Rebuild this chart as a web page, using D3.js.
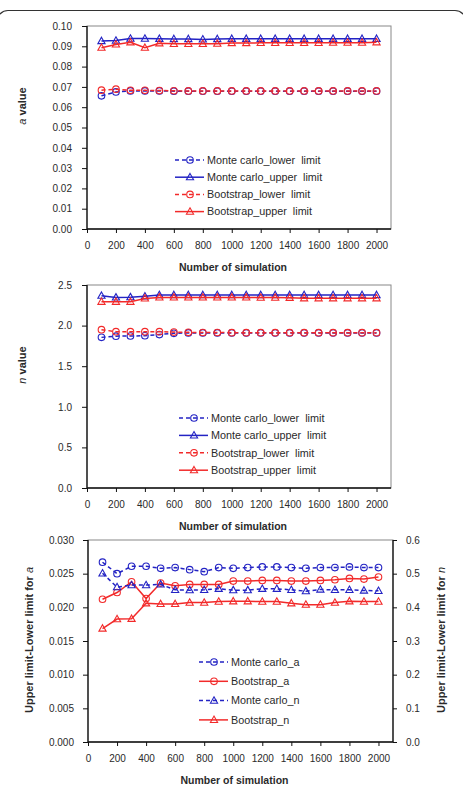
<!DOCTYPE html>
<html>
<head>
<meta charset="utf-8">
<script src="https://cdn.jsdelivr.net/npm/d3@7"></script>
<style>
  body { margin: 0; background: #fff; }
  svg { display: block; font-family: "Liberation Sans", Arial, sans-serif; }
  .tick text { fill: #2a2a2a; font-size: 10px; }
  .axis-title { fill: #2a2a2a; font-size: 10.5px; font-weight: bold; }
  .legend-text { fill: #2a2a2a; font-size: 10.8px; }
</style>
</head>
<body>
<script>
var width = 463, height = 789;
var blue = "#2323c4", red = "#f22a2a";

// number of simulations
var sims = [100, 200, 300, 400, 500, 600, 700, 800, 900, 1000,
            1100, 1200, 1300, 1400, 1500, 1600, 1700, 1800, 1900, 2000];
var xTicks = [0, 200, 400, 600, 800, 1000, 1200, 1400, 1600, 1800, 2000];

// a value
var aMcLower = [0.0656, 0.0675, 0.0680, 0.0680, 0.0680, 0.0679, 0.0679, 0.0679, 0.0679, 0.0679,
                0.0679, 0.0679, 0.0679, 0.0679, 0.0679, 0.0679, 0.0679, 0.0679, 0.0679, 0.0679];
var aMcUpper = [0.0926, 0.0928, 0.0938, 0.0938, 0.0937, 0.0936, 0.0936, 0.0934, 0.0936, 0.0937,
                0.0937, 0.0937, 0.0937, 0.0937, 0.0937, 0.0937, 0.0937, 0.0937, 0.0937, 0.0937];
var aBsLower = [0.0684, 0.0689, 0.0683, 0.0683, 0.0682, 0.0681, 0.0680, 0.0680, 0.0680, 0.0680,
                0.0680, 0.0680, 0.0680, 0.0680, 0.0680, 0.0680, 0.0680, 0.0680, 0.0680, 0.0680];
var aBsUpper = [0.0893, 0.0909, 0.0920, 0.0893, 0.0915, 0.0912, 0.0912, 0.0912, 0.0913, 0.0916,
                0.0916, 0.0917, 0.0917, 0.0917, 0.0917, 0.0917, 0.0918, 0.0918, 0.0918, 0.0920];
var aTicks = [0, 0.01, 0.02, 0.03, 0.04, 0.05, 0.06, 0.07, 0.08, 0.09, 0.10];

// n value
var nMcLower = [1.855, 1.870, 1.872, 1.875, 1.890, 1.905, 1.910, 1.910, 1.910, 1.910,
                1.910, 1.910, 1.910, 1.910, 1.910, 1.910, 1.910, 1.910, 1.910, 1.910];
var nMcUpper = [2.368, 2.347, 2.350, 2.360, 2.377, 2.377, 2.377, 2.377, 2.377, 2.377,
                2.377, 2.377, 2.377, 2.377, 2.377, 2.377, 2.377, 2.377, 2.377, 2.377];
var nBsLower = [1.950, 1.925, 1.925, 1.925, 1.925, 1.920, 1.917, 1.915, 1.915, 1.913,
                1.913, 1.913, 1.913, 1.913, 1.913, 1.913, 1.913, 1.913, 1.913, 1.913];
var nBsUpper = [2.294, 2.294, 2.294, 2.335, 2.347, 2.347, 2.347, 2.347, 2.347, 2.347,
                2.347, 2.345, 2.345, 2.343, 2.337, 2.337, 2.337, 2.337, 2.337, 2.337];
var nTicks = [0, 0.5, 1.0, 1.5, 2.0, 2.5];

// upper limit - lower limit
var diffMcA = [0.0267, 0.0250, 0.0261, 0.0261, 0.0258, 0.0259, 0.0256, 0.0253, 0.0259, 0.0258,
               0.0259, 0.0260, 0.0260, 0.0259, 0.0258, 0.0259, 0.0259, 0.0260, 0.0259, 0.0259];
var diffBsA = [0.0212, 0.0222, 0.0238, 0.0213, 0.0236, 0.0232, 0.0234, 0.0234, 0.0234, 0.0239,
               0.0239, 0.0240, 0.0240, 0.0239, 0.0239, 0.0240, 0.0241, 0.0243, 0.0242, 0.0245];
var diffMcN = [0.501, 0.460, 0.466, 0.466, 0.468, 0.452, 0.451, 0.452, 0.455, 0.451,
               0.451, 0.455, 0.455, 0.452, 0.448, 0.453, 0.452, 0.452, 0.450, 0.449];
var diffBsN = [0.337, 0.365, 0.366, 0.412, 0.410, 0.410, 0.414, 0.414, 0.417, 0.418,
               0.418, 0.417, 0.417, 0.412, 0.408, 0.408, 0.414, 0.418, 0.417, 0.417];
var diffATicks = [0, 0.005, 0.010, 0.015, 0.020, 0.025, 0.030];
var diffNTicks = [0, 0.1, 0.2, 0.3, 0.4, 0.5, 0.6];

var svg = d3.select("body").append("svg")
    .attr("width", width)
    .attr("height", height);

// outer frame, only its top edge and corners fall inside the picture
svg.append("rect")
    .attr("x", -3).attr("y", 10.5)
    .attr("width", width + 6).attr("height", 900)
    .attr("rx", 11)
    .attr("fill", "none")
    .attr("stroke", "#333")
    .attr("stroke-width", 1.2);

function drawMarker(g, shape, x, y, color){
    if (shape == "circle"){
        g.append("circle")
            .attr("cx", x).attr("cy", y).attr("r", 3.3)
            .attr("fill", "none").attr("stroke", color).attr("stroke-width", 1.1);
    } else {
        g.append("path")
            .attr("d", "M" + x + "," + (y - 3.8) + "L" + (x + 3.6) + "," + (y + 2.6) + "L" + (x - 3.6) + "," + (y + 2.6) + "Z")
            .attr("fill", "none").attr("stroke", color).attr("stroke-width", 1.1);
    }
}

function drawChart(cfg){
    var g = svg.append("g");
    var x = d3.scaleLinear().domain([0, 2100]).range([cfg.left, cfg.right]);
    var y = d3.scaleLinear().domain(cfg.yDomain).range([cfg.bottom, cfg.top]);
    var y2 = cfg.y2Domain ? d3.scaleLinear().domain(cfg.y2Domain).range([cfg.bottom, cfg.top]) : null;

    // plot frame
    g.append("rect")
        .attr("x", cfg.left).attr("y", cfg.top)
        .attr("width", cfg.right - cfg.left).attr("height", cfg.bottom - cfg.top)
        .attr("fill", "none").attr("stroke", "#888").attr("stroke-width", 1);

    var xAxis = g.append("g")
        .attr("transform", "translate(0," + cfg.bottom + ")")
        .call(d3.axisBottom(x).tickValues(xTicks).tickSize(4).tickPadding(9).tickFormat(d3.format("d")));
    var yAxis = g.append("g")
        .attr("transform", "translate(" + cfg.left + ",0)")
        .call(d3.axisLeft(y).tickValues(cfg.yTicks).tickSize(5).tickPadding(cfg.yPad).tickFormat(cfg.yFormat));
    [xAxis, yAxis].forEach(function(a){
        a.select(".domain").attr("stroke", "#111").attr("stroke-width", 1.3);
        a.selectAll(".tick line").attr("stroke", "#111");
    });
    xAxis.select(".domain").attr("d", "M" + cfg.left + ",0H" + cfg.right);
    yAxis.select(".domain").attr("d", "M0," + cfg.bottom + "V" + cfg.top);

    if (y2){
        var y2Axis = g.append("g")
            .attr("transform", "translate(" + cfg.right + ",0)")
            .call(d3.axisRight(y2).tickValues(cfg.y2Ticks).tickSize(4).tickPadding(9).tickFormat(d3.format(".1f")));
        y2Axis.select(".domain").attr("stroke", "#111").attr("stroke-width", 1.3)
            .attr("d", "M0," + cfg.bottom + "V" + cfg.top);
        y2Axis.selectAll(".tick line").attr("stroke", "#111");
    }

    g.append("text")
        .attr("class", "axis-title")
        .attr("x", (cfg.left + cfg.right) / 2 - 6)
        .attr("y", cfg.bottom + 42)
        .attr("text-anchor", "middle")
        .text("Number of simulation");

    var yt = g.append("text")
        .attr("class", "axis-title")
        .attr("text-anchor", "middle")
        .style("font-size", cfg.yTitleSize)
        .attr("transform", "translate(" + cfg.yTitleX + "," + cfg.yTitleY + ") rotate(-90)");
    yt.append("tspan").text(cfg.yTitle[0]);
    yt.append("tspan").attr("font-style", "italic").attr("font-weight", "normal").text(cfg.yTitle[1]);
    if (cfg.yTitle[2]) yt.append("tspan").text(cfg.yTitle[2]);

    if (cfg.y2Title){
        var yt2 = g.append("text")
            .attr("class", "axis-title")
            .attr("text-anchor", "middle")
            .style("font-size", cfg.yTitleSize)
            .attr("transform", "translate(" + cfg.y2TitleX + "," + cfg.yTitleY + ") rotate(-90)");
        yt2.append("tspan").text(cfg.y2Title[0]);
        yt2.append("tspan").attr("font-style", "italic").attr("font-weight", "normal").text(cfg.y2Title[1]);
    }

    // series
    cfg.series.forEach(function(s){
        var sy = s.right ? y2 : y;
        var line = d3.line()
            .x(function(d, i){ return x(sims[i]); })
            .y(function(d){ return sy(d); });
        g.append("path")
            .datum(s.values)
            .attr("d", line)
            .attr("fill", "none")
            .attr("stroke", s.color)
            .attr("stroke-width", 1.5)
            .attr("stroke-dasharray", s.dashed ? "4,3" : null);
        var mg = g.append("g");
        s.values.forEach(function(d, i){
            drawMarker(mg, s.shape, x(sims[i]), sy(d), s.color);
        });
    });

    // legend
    var legend = g.append("g").attr("class", "legend");
    cfg.series.forEach(function(s, i){
        var ly = cfg.legendY + i * cfg.legendStep;
        legend.append("line")
            .attr("x1", cfg.legendX).attr("x2", cfg.legendX + 29)
            .attr("y1", ly).attr("y2", ly)
            .attr("stroke", s.color).attr("stroke-width", 1.5)
            .attr("stroke-dasharray", s.dashed ? "4,3" : null);
        drawMarker(legend, s.shape, cfg.legendX + 15, ly, s.color);
        legend.append("text")
            .attr("class", "legend-text")
            .attr("x", cfg.legendX + 32)
            .attr("y", ly + 3.8)
            .attr("xml:space", "preserve")
            .style("white-space", "pre")
            .text(s.name);
    });
}

drawChart({
    left: 87, right: 391, top: 26, bottom: 229,
    yDomain: [0, 0.10], yTicks: aTicks, yFormat: d3.format(".2f"), yPad: 10,
    yTitle: ["", "a", " value"], yTitleX: 26, yTitleY: 106, yTitleSize: "11px",
    legendX: 175, legendY: 160, legendStep: 17.2,
    series: [
        {name: "Monte carlo_lower  limit", values: aMcLower, color: blue, dashed: true, shape: "circle"},
        {name: "Monte carlo_upper  limit", values: aMcUpper, color: blue, dashed: false, shape: "triangle"},
        {name: "Bootstrap_lower  limit", values: aBsLower, color: red, dashed: true, shape: "circle"},
        {name: "Bootstrap_upper  limit", values: aBsUpper, color: red, dashed: false, shape: "triangle"}
    ]
});

drawChart({
    left: 87, right: 391, top: 285, bottom: 488,
    yDomain: [0, 2.5], yTicks: nTicks, yFormat: d3.format(".1f"), yPad: 10,
    yTitle: ["", "n", " value"], yTitleX: 26, yTitleY: 365, yTitleSize: "11px",
    legendX: 179, legendY: 418, legendStep: 17.4,
    series: [
        {name: "Monte carlo_lower  limit", values: nMcLower, color: blue, dashed: true, shape: "circle"},
        {name: "Monte carlo_upper  limit", values: nMcUpper, color: blue, dashed: false, shape: "triangle"},
        {name: "Bootstrap_lower  limit", values: nBsLower, color: red, dashed: true, shape: "circle"},
        {name: "Bootstrap_upper  limit", values: nBsUpper, color: red, dashed: false, shape: "triangle"}
    ]
});

drawChart({
    left: 88, right: 393, top: 540, bottom: 742,
    yDomain: [0, 0.030], yTicks: diffATicks, yFormat: d3.format(".3f"), yPad: 9,
    y2Domain: [0, 0.6], y2Ticks: diffNTicks,
    yTitle: ["Upper limit-Lower limit for ", "a"], yTitleX: 33, yTitleY: 640, yTitleSize: "11px",
    y2Title: ["Upper limit-Lower limit for ", "n"], y2TitleX: 445,
    legendX: 199, legendY: 662, legendStep: 19.3,
    series: [
        {name: "Monte carlo_a", values: diffMcA, color: blue, dashed: true, shape: "circle"},
        {name: "Bootstrap_a", values: diffBsA, color: red, dashed: false, shape: "circle"},
        {name: "Monte carlo_n", values: diffMcN, color: blue, dashed: true, shape: "triangle", right: true},
        {name: "Bootstrap_n", values: diffBsN, color: red, dashed: false, shape: "triangle", right: true}
    ]
});
</script>
</body>
</html>
